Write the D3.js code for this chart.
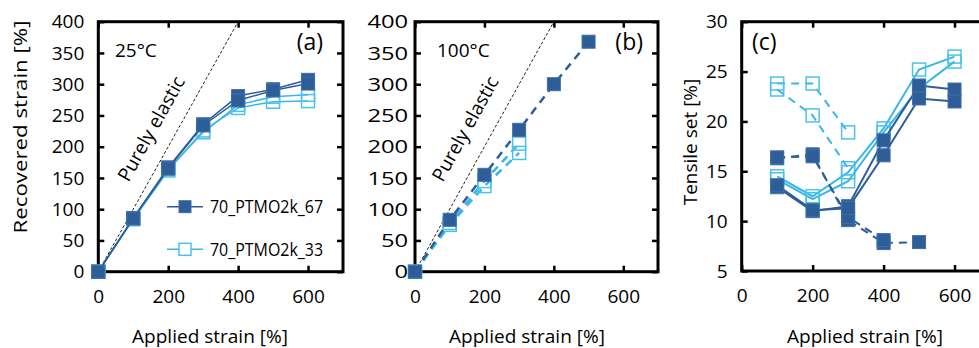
<!DOCTYPE html>
<html><head><meta charset="utf-8">
<script src="https://cdn.jsdelivr.net/npm/d3@7"></script>
<style>
body{margin:0;background:#fff;}
svg{display:block;font-family:"Open Sans",sans-serif;}
</style></head>
<body><svg id="c" width="979" height="348"></svg>
<script>
// ---------- data ----------
const xTicks = [0,200,400,600];
const yTicksAB = [0,50,100,150,200,250,300,350,400];
const yTicksC = [5,10,15,20,25,30];

// (a) 25°C recovered strain
const strainA = [0,100,200,300,400,500,600];
const a67_1 = [0,86,167,236,281,292,307];
const a67_2 = [0,85,165,234,274,290,301];
const a33_1 = [0,84,162,226,262,272,273];
const a33_2 = [0,85,164,223,267,280,283];

// (b) 100°C recovered strain
const strainB67 = [0,100,200,300,400,500];
const b67 = [0,83,155,227,300,368];
const strainB33 = [0,100,200,300];
const b33_1 = [0,78,145,205];
const b33_2 = [0,75,137,190];

// purely elastic reference
const elasticX = [0,400];
const elasticY = [0,400];

// (c) tensile set
const strainC25 = [100,200,300,400,500,600];
const c67_25_1 = [13.4,11.0,11.5,18.1,23.6,23.2];
const c67_25_2 = [13.6,11.1,11.3,16.6,22.3,22.0];
const c33_25_1 = [14.5,12.5,14.9,19.3,25.2,26.5];
const c33_25_2 = [14.2,12.2,14.0,18.9,23.3,26.0];
const strainC100 = [100,200,300,400,500];
const c67_100_1 = [16.3,16.7,10.1,7.8,7.9];
const c67_100_2 = [16.4,16.5,10.4,8.1];
const c33_100_1 = [23.8,23.8,18.9];
const c33_100_2 = [23.2,20.6,15.3];

const legendLabels = ["70_PTMO2k_67","70_PTMO2k_33"];

// ---------- style ----------
const DARK = "#2e5e98", DARKEDGE = "#3f6faa", LIGHT = "#3ab6e6", LIGHTM = "#4cc2ea";
const svg = d3.select("#c");

function panel(opt){
  const x = d3.scaleLinear().domain([0,700]).range([opt.x0,opt.x1]);
  const y = d3.scaleLinear().domain(opt.ydom).range([opt.yb,opt.yt]);
  const g = svg.append("g");
  g.append("rect").attr("x",opt.x0).attr("y",opt.yt)
    .attr("width",opt.x1-opt.x0).attr("height",opt.yb-opt.yt)
    .attr("fill","none").attr("stroke","#000").attr("stroke-width",3);
  const fs = "19px";
  const ab = g.append("g").attr("transform",`translate(0,${opt.yb})`)
    .call(d3.axisBottom(x).tickValues(xTicks).tickSizeInner(-6).tickSizeOuter(0).tickPadding(18));
  const at = g.append("g").attr("transform",`translate(0,${opt.yt})`)
    .call(d3.axisTop(x).tickValues(xTicks).tickSizeInner(-6).tickSizeOuter(0).tickFormat(""));
  const al = g.append("g").attr("transform",`translate(${opt.x0},0)`)
    .call(d3.axisLeft(y).tickValues(opt.yticks).tickSizeInner(-6).tickSizeOuter(0).tickPadding(opt.ypad));
  const ar = g.append("g").attr("transform",`translate(${opt.x1},0)`)
    .call(d3.axisRight(y).tickValues(opt.yticks).tickSizeInner(-6).tickSizeOuter(0).tickFormat(""));
  [ab,at,al,ar].forEach(a=>{
    a.select(".domain").remove();
    a.selectAll("line").attr("stroke","#000").attr("stroke-width",2.5);
    a.selectAll("text").attr("font-family","Open Sans").attr("font-size",fs).attr("fill","#000");
  });
  if(opt.yscaleX) al.selectAll("text").attr("transform",`scale(${opt.yscaleX},1)`);
  return {x,y,g};
}

function series(p, xs, ys, color, dashed, filled, lw){
  const pts = ys.map((v,i)=>[xs[i],v]);
  const line = d3.line().x(d=>p.x(d[0])).y(d=>p.y(d[1]));
  p.g.append("path").attr("d",line(pts)).attr("fill","none")
    .attr("stroke",color).attr("stroke-width",lw||2)
    .attr("stroke-dasharray",dashed?"8,6":null);
  p.g.selectAll(null).data(pts).enter().append("rect")
    .attr("x",d=>p.x(d[0])-6.5).attr("y",d=>p.y(d[1])-6.5)
    .attr("width",13).attr("height",13)
    .attr("fill",filled?DARK:"none")
    .attr("stroke",filled?DARKEDGE:LIGHTM).attr("stroke-width",filled?1:1.5);
}

function elastic(p){
  const pts = elasticX.map((v,i)=>[v,elasticY[i]]);
  p.g.append("path").attr("d",d3.line().x(d=>p.x(d[0])).y(d=>p.y(d[1]))(pts))
    .attr("fill","none").attr("stroke","#222").attr("stroke-width",1).attr("stroke-dasharray","3,2");
}

// ---------- panel (a) ----------
const pa = panel({x0:98.3,x1:343,yt:21.7,yb:271.7,ydom:[0,400],yticks:yTicksAB,ypad:14});
elastic(pa);
series(pa,strainA,a33_1,LIGHT,false,false,1.5);
series(pa,strainA,a33_2,LIGHT,false,false,1.5);
series(pa,strainA,a67_1,DARK,false,true,1.5);
series(pa,strainA,a67_2,DARK,false,true,1.5);

// ---------- panel (b) ----------
const pb = panel({x0:415,x1:658,yt:21.7,yb:271.7,ydom:[0,400],yticks:yTicksAB,ypad:5.5,yscaleX:1.25});
elastic(pb);
series(pb,strainB33,b33_1,LIGHT,true,false,2.5);
series(pb,strainB33,b33_2,LIGHT,true,false,2.5);
series(pb,strainB67,b67,DARK,true,true,2.5);

// ---------- panel (c) ----------
const pc = panel({x0:741.7,x1:990,yt:21.7,yb:271,ydom:[5,30],yticks:yTicksC,ypad:14});
series(pc,strainC100,c33_100_1,LIGHT,true,false,2);
series(pc,strainC100.slice(0,3),c33_100_2,LIGHT,true,false,2);
series(pc,strainC25,c33_25_1,LIGHT,false,false,2);
series(pc,strainC25,c33_25_2,LIGHT,false,false,2);
series(pc,strainC100,c67_100_1,DARK,true,true,2);
series(pc,strainC100.slice(0,4),c67_100_2,DARK,true,true,2);
series(pc,strainC25,c67_25_1,DARK,false,true,2);
series(pc,strainC25,c67_25_2,DARK,false,true,2);

// ---------- texts ----------
function txt(x,y,s,size,anchor,rot){
  const t = svg.append("text").attr("x",x).attr("y",y).text(s)
    .attr("font-size",size).attr("text-anchor",anchor||"start").attr("fill","#000");
  if(rot!==undefined) t.attr("transform",`rotate(${rot},${x},${y})`);
  return t;
}
txt(210,343,"Applied strain [%]","19px","middle");
txt(527,343,"Applied strain [%]","19px","middle");
txt(865,343,"Applied strain [%]","19px","middle");
txt(27,127,"Recovered strain [%]","19px","middle",-90).attr("textLength",213).attr("lengthAdjust","spacingAndGlyphs");
txt(697,142,"Tensile set [%]","19px","middle",-90);
txt(115,57,"25°C","19px");
txt(437,57,"100°C","19px");
txt(323,50,"(a)","23px","end");
txt(643,50,"(b)","23px","end");
txt(752,50,"(c)","23px","start");
const angA = -Math.atan2(pa.y(0)-pa.y(400), pa.x(400)-pa.x(0))*180/Math.PI;
txt(157,132,"Purely elastic","19px","middle",angA);
const angB = -Math.atan2(pb.y(0)-pb.y(400), pb.x(400)-pb.x(0))*180/Math.PI;
txt(471,132,"Purely elastic","19px","middle",angB);

// legend
const lg = svg.append("g");
legendLabels.forEach((lab,i)=>{
  const yy = [206.7,249.3][i];
  const dark = i===0;
  lg.append("line").attr("x1",167).attr("x2",203).attr("y1",yy).attr("y2",yy)
    .attr("stroke",dark?DARK:LIGHT).attr("stroke-width",1.5);
  lg.append("rect").attr("x",185-6).attr("y",yy-6).attr("width",12).attr("height",12)
    .attr("fill",dark?DARK:"#fff").attr("stroke",dark?DARKEDGE:LIGHTM).attr("stroke-width",dark?1:1.5);
  lg.append("text").attr("x",210).attr("y",yy+6.5).text(lab).attr("font-size","19px")
    .attr("textLength",113).attr("lengthAdjust","spacingAndGlyphs");
});
</script></body></html>
